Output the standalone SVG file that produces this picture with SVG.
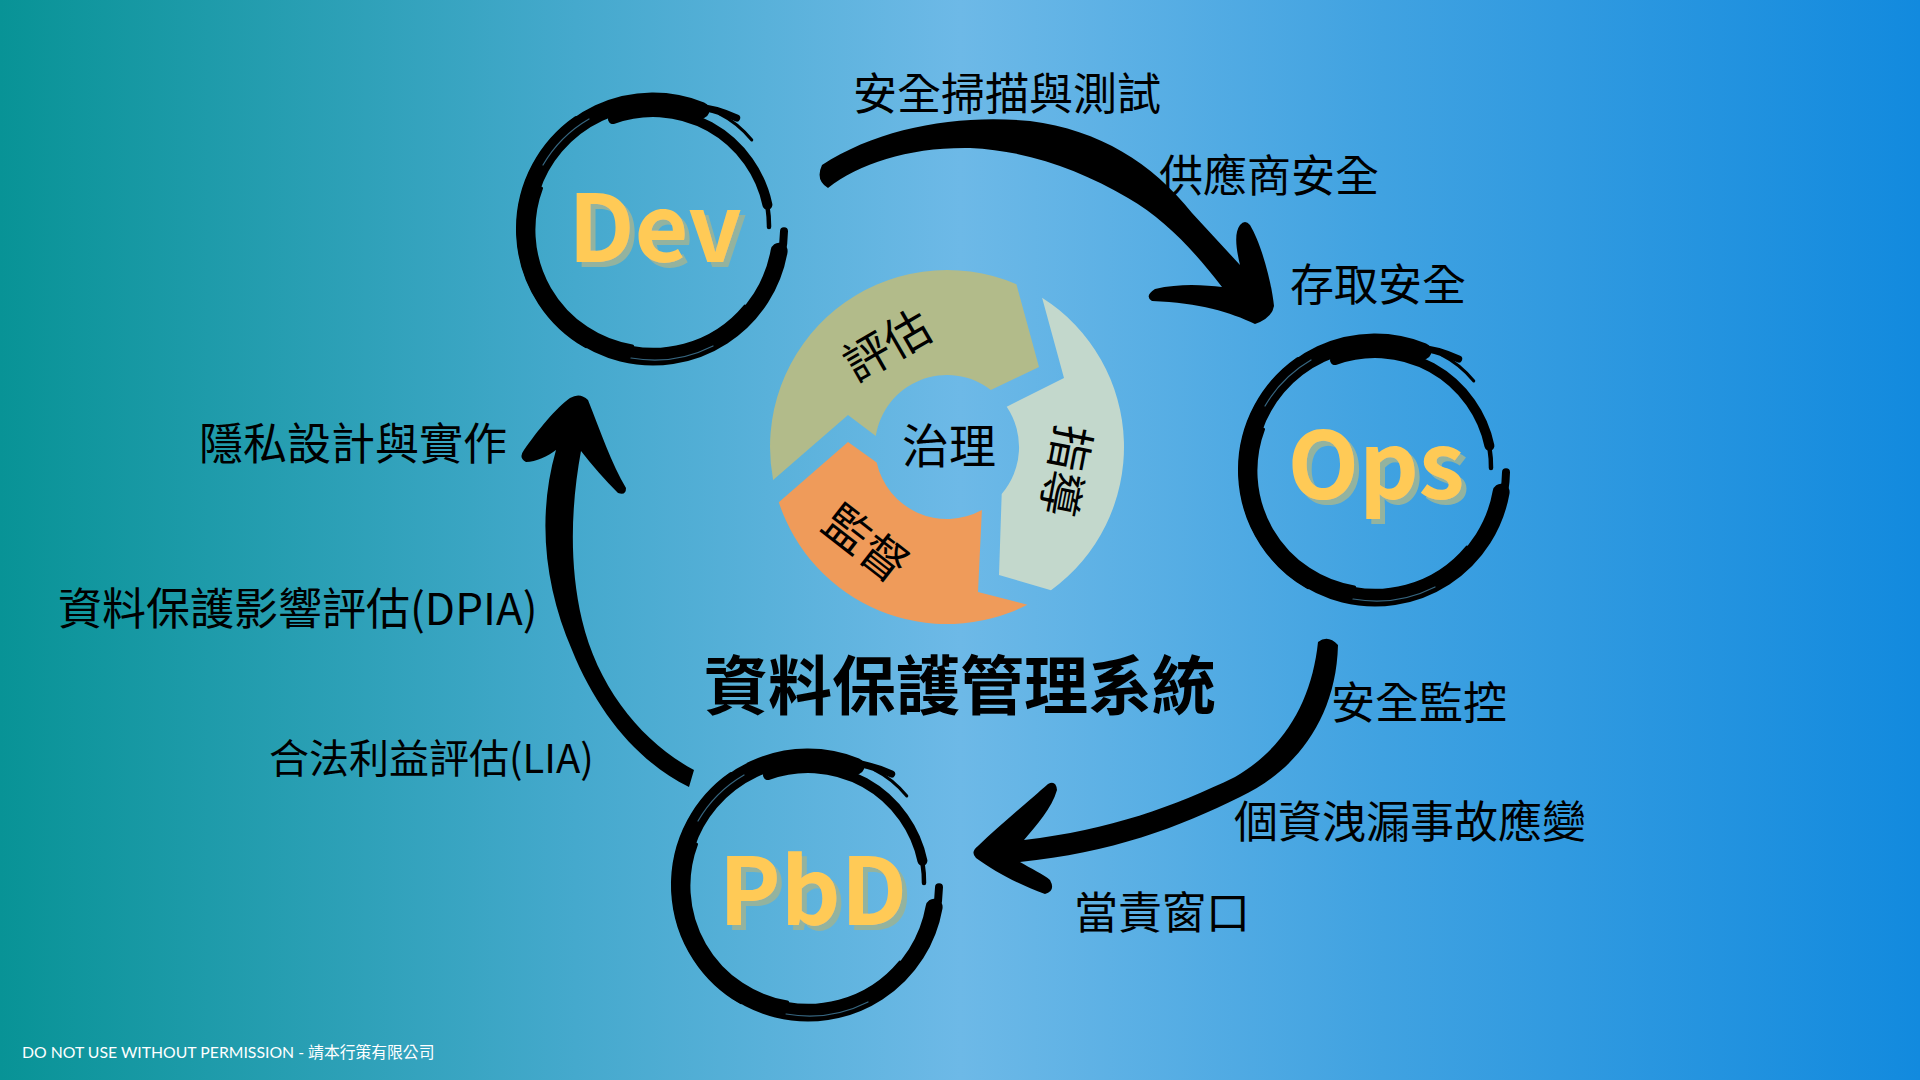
<svg xmlns="http://www.w3.org/2000/svg" xmlns:xlink="http://www.w3.org/1999/xlink" width="1920" height="1080" viewBox="0 0 1920 1080">
<defs>
  <linearGradient id="bg" x1="0" y1="0" x2="1920" y2="0" gradientUnits="userSpaceOnUse">
    <stop offset="0" stop-color="#089396"/>
    <stop offset="0.3" stop-color="#45a9cd"/>
    <stop offset="0.5" stop-color="#6db9e7"/>
    <stop offset="0.72" stop-color="#40a2e1"/>
    <stop offset="1" stop-color="#128ade"/>
  </linearGradient>
  <filter id="sh" x="-10%" y="-10%" width="130%" height="130%">
    <feDropShadow dx="5" dy="5" stdDeviation="0" flood-color="#93b39f" flood-opacity="1"/>
  </filter>
  <g id="ring" fill="none" stroke="#000" stroke-linecap="round">
    <path d="M 126.1,22.2 A 128 128 0 1 1 47.9,-118.7" stroke-width="17"/>
    <path d="M 131,2.3 A 131 131 0 0 1 118.7,55.4" stroke-width="8"/>
    <path d="M 39.9,-122.7 Q 62,-121 83.7,-111" stroke-width="7"/>
    <path d="M 66.5,-115.2 Q 85,-106 98.8,-89" stroke-width="3"/>
    <path d="M -40,-109.9 A 117 117 0 0 1 114.4,-24.3" stroke-width="10"/>
    <path d="M 110,-40 A 116 116 0 0 1 116,-2" stroke-width="4.5"/>
    <path d="M -67,116 A 134 134 0 0 1 -76.9,-109.8" stroke-width="6"/>
    <path d="M -20.7,117.2 A 118 118 0 0 1 -111.8,-40.7" stroke-width="3.5"/>
    <path d="M 91.9,77.1 A 119 119 0 0 1 -41,112.8" stroke-width="3"/>
    <path d="M -110,-64 A 127 127 0 0 1 -64,-110" stroke="#5aaad6" stroke-opacity="0.6" stroke-width="1.2"/>
    <path d="M 60,117 A 131 131 0 0 1 -22,129" stroke="#5aaad6" stroke-opacity="0.6" stroke-width="1.2"/>
  </g>
  <style>
    .lbl { font-family: "Noto Sans CJK TC", "Noto Sans CJK SC", sans-serif; font-size: 44px; fill: #000; }
    .seg { font-family: "Noto Sans CJK TC", "Noto Sans CJK SC", sans-serif; font-size: 46px; fill: #000; text-anchor: middle; }
    .big { font-family: "Noto Sans CJK TC", "Noto Sans CJK SC", sans-serif; font-size: 93px; font-weight: 700; text-anchor: middle; fill: #ffca57; filter: url(#sh); }
    .title { font-family: "Noto Sans CJK TC", "Noto Sans CJK SC", sans-serif; font-size: 64px; font-weight: 700; fill: #000; text-anchor: middle; }
    .foot { font-family: Lato, "Noto Sans CJK TC", sans-serif; font-size: 15.8px; fill: #fff; }
  </style>
</defs>

<rect x="0" y="0" width="1920" height="1080" fill="url(#bg)"/>

<g id="connectors" fill="#000">
  <path id="arrow-dev-ops" d="M 822,165 C 880,127 960,114 1030,121 C 1100,130 1152,163 1192,213 L 1240,265 C 1236,248 1234,233 1240,225 Q 1245,219 1250,225 C 1262,245 1272,285 1274,306 Q 1272,318 1255,324 C 1230,312 1200,303 1152,301 Q 1144,296 1155,289 C 1180,283 1205,285 1222,287 C 1195,252 1165,219 1128,198 C 1080,170 1030,151 970,148 C 910,147 860,163 828,188 Q 815,180 822,165 Z"/>
  <path id="arrow-ops-pbd" d="M 1318,642 Q 1328,634 1338,645 C 1336,722 1292,773 1240,797 C 1180,827 1110,853 1020,862 C 1030,868 1045,875 1050,880 Q 1056,891 1045,894 C 1020,885 995,872 976,858 Q 970,852 978,846 C 1000,825 1030,800 1048,784 Q 1056,780 1057,790 C 1052,808 1036,826 1024,840 C 1110,830 1175,806 1235,777 C 1285,748 1312,700 1318,642 Z"/>
  <path id="arrow-pbd-dev" d="M 694,770 L 689,787 C 638,762 597,712 572,650 C 546,590 536,520 556,450 C 548,456 536,462 526,462 Q 518,458 524,450 C 538,430 556,408 570,398 Q 580,392 588,400 C 600,430 612,465 626,488 Q 626,496 618,493 C 605,480 592,465 581,451 C 572,500 568,560 582,620 C 598,688 642,742 694,770 Z"/>
</g>

<g id="label-dev-ops" class="lbl">
  <text x="853" y="110">安全掃描與測試</text>
  <text x="1159" y="192">供應商安全</text>
  <text x="1290" y="301">存取安全</text>
</g>
<g id="label-ops-pbd" class="lbl">
  <text x="1331" y="719">安全監控</text>
  <text x="1234" y="838">個資洩漏事故應變</text>
  <text x="1074" y="929">當責窗口</text>
</g>
<g id="label-pbd-dev" class="lbl">
  <text x="199" y="460">隱私設計與實作</text>
  <text x="58" y="625">資料保護影響評估(DPIA)</text>
  <text x="269" y="773" style="font-size:40px">合法利益評估(LIA)</text>
</g>

<g id="node-dev">
  <use xlink:href="#ring" href="#ring" transform="translate(653,229)"/>
  <text class="big" x="655" y="262">Dev</text>
</g>
<g id="node-ops">
  <use xlink:href="#ring" href="#ring" transform="translate(1375,470)"/>
  <text class="big" x="1376" y="499">Ops</text>
</g>
<g id="node-pbd">
  <use xlink:href="#ring" href="#ring" transform="translate(808,885)"/>
  <text class="big" x="813" y="925">PbD</text>
</g>

<g id="node-governance">
  <path id="seg-assess" fill="#b2bb8a" d="M 773.1,479.9 A 177 177 0 0 1 1016.4,284.2 L 1039,367 L 990.8,389.9 A 72 72 0 0 0 875.8,436.1 L 848,415 Z"/>
  <path id="seg-direct" fill="#c3d8cc" d="M 1042.1,297.7 A 177 177 0 0 1 1051,590.2 L 999,575 L 1001.7,493.9 A 72 72 0 0 0 1006.7,406.7 L 1064,378 Z"/>
  <path id="seg-monitor" fill="#ef9b5a" d="M 1027.4,604.7 A 177 177 0 0 1 778.8,502.3 L 848,442 L 876.7,462.6 A 72 72 0 0 0 981.9,510 L 978,592 Z"/>
  <text class="seg" x="949" y="463" style="font-size:47px">治理</text>
  <text class="seg" transform="translate(887,345) rotate(-30)" x="0" y="17">評估</text>
  <text class="seg" transform="translate(1066,471) rotate(101)" x="0" y="17">指導</text>
  <text class="seg" transform="translate(866,543) rotate(38)" x="0" y="17">監督</text>
</g>

<g id="title">
  <text class="title" x="960" y="709">資料保護管理系統</text>
</g>

<g id="footer">
  <text class="foot" x="22" y="1058">DO NOT USE WITHOUT PERMISSION - 靖本行策有限公司</text>
</g>
</svg>
